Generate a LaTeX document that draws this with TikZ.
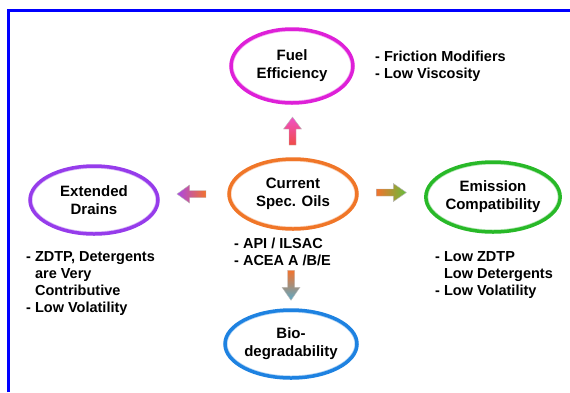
\documentclass[tikz,border=0pt]{standalone}
\usepackage{fontspec}
\setmainfont{Liberation Sans}
\usetikzlibrary{shapes.geometric,calc}
\definecolor{fuelc}{RGB}{222,32,216}
\definecolor{curc}{RGB}{240,118,40}
\definecolor{extc}{RGB}{150,60,235}
\definecolor{emic}{RGB}{40,185,40}
\definecolor{bioc}{RGB}{30,130,225}
\definecolor{frameblue}{RGB}{0,0,255}
\definecolor{apink}{RGB}{240,80,200}
\definecolor{ared}{RGB}{240,75,70}
\definecolor{apurple}{RGB}{170,70,230}
\definecolor{aorange}{RGB}{242,115,45}
\definecolor{agreen}{RGB}{100,190,60}
\definecolor{ateal}{RGB}{90,170,200}
\begin{document}
\begin{tikzpicture}[x=1pt,y=-1pt,
  ell/.style={ellipse, draw=#1, line width=3.5pt, inner sep=0pt, align=center,
    font=\fontsize{15}{18}\selectfont\bfseries,
    path picture={\path let \p1=($(path picture bounding box.north east)-(path picture bounding box.center)$) in
      [line width=14pt, draw=#1!8] (path picture bounding box.center) ellipse [x radius=\x1, y radius=\y1]
      [line width=9pt, draw=#1!16] (path picture bounding box.center) ellipse [x radius=\x1, y radius=\y1]
      [line width=5pt, draw=#1!35] (path picture bounding box.center) ellipse [x radius=\x1, y radius=\y1];}},
  note/.style={align=left, inner sep=0pt, anchor=west,
    font=\fontsize{14.5}{17}\selectfont\bfseries},
  arr/.style={draw=gray!55, line width=0.4pt},
]
\useasboundingbox (0,0) rectangle (570,392);
\fill[white] (0,0) rectangle (570,392);
\draw[frameblue, line width=3pt] (8.5,392) -- (8.5,10.5) -- (570,10.5);

\node[ell=fuelc, minimum width=122pt, minimum height=74pt] (fuel) at (292,66) {Fuel\\Efficiency};
\node[ell=curc, minimum width=128pt, minimum height=70pt] (cur) at (293,194) {Current\\Spec. Oils};
\node[ell=extc, minimum width=128pt, minimum height=68pt] (ext) at (94,200) {Extended\\Drains};
\node[ell=emic, minimum width=130pt, minimum height=70pt] (emi) at (493,197) {Emission\\Compatibility};
\node[ell=bioc, minimum width=124pt, minimum height=68pt] (bio) at (291,344) {Bio-\\degradability};

\node[note] (fric) at (375,66) {- Friction Modifiers\\- Low Viscosity};
\node[note] (api) at (234,252) {- API / ILSAC\\- ACEA A /B/E};
\node[note] (extn) at (26,284) {- ZDTP, Detergents\\\phantom{- }are Very\\\phantom{- }Contributive\\- Low Volatility};
\node[note] (emin) at (435,275) {- Low ZDTP\\\phantom{- }Low Detergents\\- Low Volatility};

% up arrow
\path[arr, top color=apink, bottom color=ared, shift={($(fuel.south)!0.5!(cur.north)$)}]
  (-3.5,14) -- (-3.5,-2) -- (-9,-2) -- (0,-14) -- (9,-2) -- (3.5,-2) -- (3.5,14) -- cycle;
% left arrow
\path[arr, left color=apurple, right color=aorange, shift={($(ext.east)!0.5!(cur.west)+(-2,-3)$)}]
  (14.5,-3.5) -- (-2,-3.5) -- (-2,-9) -- (-14.5,0) -- (-2,9) -- (-2,3.5) -- (14.5,3.5) -- cycle;
% right arrow
\path[arr, left color=aorange, right color=agreen, shift={($(cur.east)!0.5!(emi.west)+(0,-3)$)}]
  (-15,-3.5) -- (2,-3.5) -- (2,-9) -- (15,0) -- (2,9) -- (2,3.5) -- (-15,3.5) -- cycle;
% down arrow
\path[arr, top color=aorange, bottom color=ateal, shift={($(bio.north)+(0,-23)$)}]
  (-3.5,-15) -- (-3.5,2) -- (-9,2) -- (0,15) -- (9,2) -- (3.5,2) -- (3.5,-15) -- cycle;
\end{tikzpicture}
\end{document}
